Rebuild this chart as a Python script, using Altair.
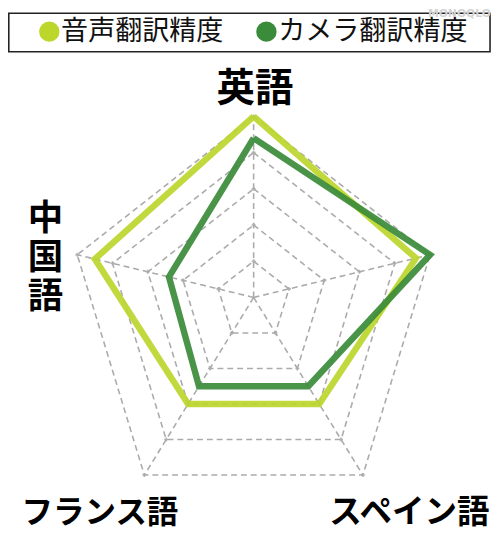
import math
import altair as alt
import pandas as pd

# ---------------- data ----------------
axis_names = ["英語", "", "スペイン語", "フランス語", "中国語"]
series_names = ["音声翻訳精度", "カメラ翻訳精度"]
voice_values = [5.0, 4.6, 3.0, 3.0, 4.5]
camera_values = [4.4, 5.0, 2.5, 2.5, 2.4]
ring_levels = [1, 2, 3, 4, 5]

# ---------------- frame geometry / style ----------------
CX, CY = 257.7, 297.7                       # centre of the radar (page px)
AX_ANGLE = [0, 76.4, 148.4, 211.6, 283.6]   # axis direction, clockwise from up
AX_STEP = [36.8, 36.9, 42.4, 42.4, 36.9]    # px per unit along each axis
LIGHT = "#bdd62c"
DARK = "#3a8b3a"
GRID = "#ababab"
FONT = "Noto Sans CJK JP"

xs = alt.Scale(domain=[8, 500], nice=False, zero=False)
ys = alt.Scale(domain=[8, 555], nice=False, zero=False, reverse=True)


def polar(chart):
    return chart.transform_calculate(
        px=f"{CX} + datum.value * datum.step * sin(datum.ang * PI / 180)",
        py=f"{CY} - datum.value * datum.step * cos(datum.ang * PI / 180)",
    )


def xy():
    return dict(
        x=alt.X("px:Q", scale=xs, axis=None),
        y=alt.Y("py:Q", scale=ys, axis=None),
    )


# rings
ring_rows = []
for r in ring_levels:
    for i in range(6):
        k = i % 5
        ring_rows.append({"ring": r, "ord": i, "value": r,
                          "ang": AX_ANGLE[k], "step": AX_STEP[k]})
ring_df = pd.DataFrame(ring_rows)

rings = polar(alt.Chart(ring_df)).mark_line(
    color=GRID, strokeWidth=1.6, strokeDash=[6, 4]
).encode(order="ord:Q", detail="ring:N", **xy())

# spokes
spoke_rows = []
for k in range(5):
    for v in (0, ring_levels[-1]):
        spoke_rows.append({"axis": k, "value": v, "ang": AX_ANGLE[k], "step": AX_STEP[k]})
spoke_df = pd.DataFrame(spoke_rows)
spokes = polar(alt.Chart(spoke_df)).mark_line(
    color=GRID, strokeWidth=1.6, strokeDash=[6, 4]
).encode(detail="axis:N", order="value:Q", **xy())

# vertex ticks
vert_df = ring_df[ring_df["ord"] < 5]
verts = polar(alt.Chart(vert_df)).mark_point(
    shape="cross", filled=True, size=16, color=GRID, opacity=0.9
).encode(**xy())

# series
layers = [rings, spokes, verts]
for name, vals, col, sw in [(series_names[0], voice_values, LIGHT, 6.5),
                            (series_names[1], camera_values, DARK, 6.5)]:
    rows = []
    for i in range(6):
        k = i % 5
        rows.append({"series": name, "axis": axis_names[k], "ord": i,
                     "value": vals[k], "ang": AX_ANGLE[k], "step": AX_STEP[k]})
    df = pd.DataFrame(rows)
    layers.append(
        polar(alt.Chart(df)).mark_line(
            color=col, strokeWidth=sw, strokeJoin="miter", strokeMiterLimit=10, opacity=0.92
        ).encode(order="ord:Q", **xy())
    )

# axis labels
label_pos = {
    "英語": (251, 78, 39),
    "スペイン語": (408, 508.5, 33),
    "フランス語": (93.5, 508.5, 32),
}
for name in axis_names:
    if name in label_pos:
        x, y, fs = label_pos[name]
        layers.append(
            alt.Chart(pd.DataFrame({"t": [name]})).mark_text(
                font=FONT, fontWeight="bold", fontSize=fs, color="black",
                align="center", baseline="middle"
            ).encode(text="t:N", x=alt.value(x), y=alt.value(y))
        )
# vertical label (one character per row)
vertical_rows_y = [210, 250, 289]
for ch, vy in zip(list(axis_names[4]), vertical_rows_y):
    layers.append(
        alt.Chart(pd.DataFrame({"t": [ch]})).mark_text(
            font=FONT, fontWeight="bold", fontSize=36, color="black",
            align="center", baseline="middle"
        ).encode(text="t:N", x=alt.value(38), y=alt.value(vy))
    )

# legend box
layers.append(
    alt.Chart(pd.DataFrame({"a": [0]})).mark_rect(
        fill="white", fillOpacity=0, stroke="#222222", strokeWidth=1.6
    ).encode(x=alt.value(0.8), x2=alt.value(490), y=alt.value(0.8), y2=alt.value(40))
)
legend_x = [42, 262.7]
for name, col, lx in zip(series_names, [LIGHT, DARK], legend_x):
    layers.append(
        alt.Chart(pd.DataFrame({"t": [name]})).mark_circle(
            size=430, color=col, opacity=1
        ).encode(x=alt.value(lx), y=alt.value(19.5))
    )
    layers.append(
        alt.Chart(pd.DataFrame({"t": [name]})).mark_text(
            font=FONT, fontSize=27.5, color="#111111", align="left", baseline="middle"
        ).encode(text="t:N", x=alt.value(lx + 12), y=alt.value(20))
    )

# watermark
layers.append(
    alt.Chart(pd.DataFrame({"t": ["MONOQLO"]})).mark_text(
        font="DejaVu Sans", fontWeight="bold", fontSize=11, color="#d4d4d4",
        align="right", baseline="middle"
    ).encode(text="t:N", x=alt.value(491), y=alt.value(2))
)

chart = alt.layer(*layers).properties(
    width=492, height=547, padding=0,
    autosize=alt.AutoSizeParams(type="none"),
).configure_view(stroke=None)

chart.save("out.html", embed_options={"renderer": "svg", "actions": False})
